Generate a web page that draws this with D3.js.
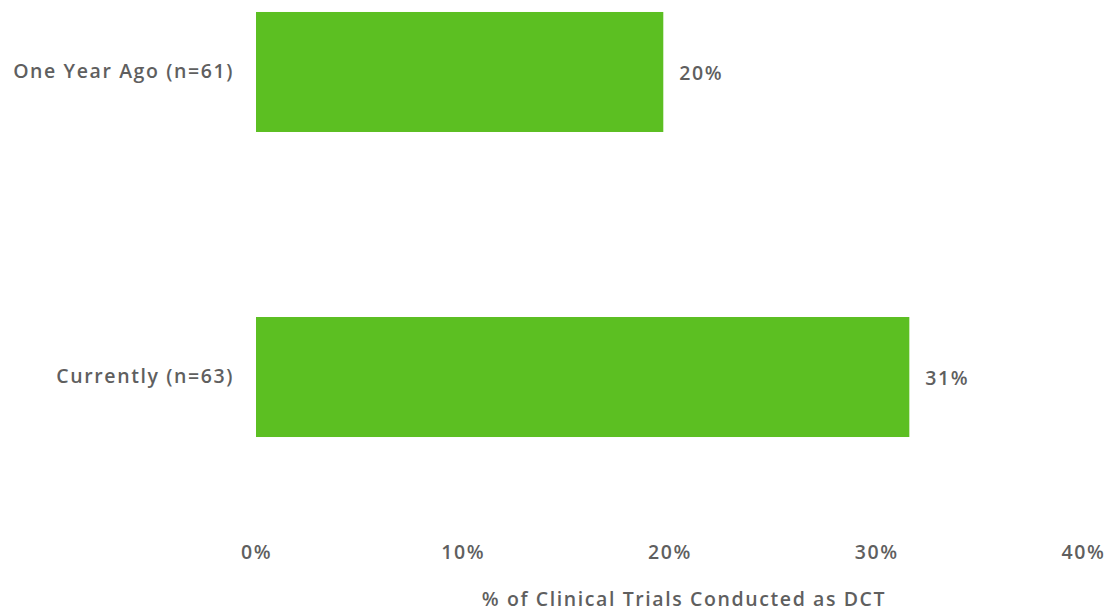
<!DOCTYPE html>
<html><head><meta charset="utf-8">
<script src="https://cdn.jsdelivr.net/npm/d3@7"></script>
<style>body{margin:0;background:#fff}svg text{font-family:"Open Sans",sans-serif;fill:#5f5f5f;font-weight:600;font-size:19.5px;letter-spacing:1.6px}</style>
</head><body><svg id="c" width="1115" height="612"></svg>
<script>
const categories = ["One Year Ago (n=61)", "Currently (n=63)"];
const values = [19.7, 31.6];
const valueLabels = ["20%", "31%"];
const tickValues = [0, 10, 20, 30, 40];
const tickLabels = ["0%", "10%", "20%", "30%", "40%"];
const axisTitle = "% of Clinical Trials Conducted as DCT";

const svg = d3.select("#c");
const x = d3.scaleLinear().domain([0, 40]).range([256, 1083]);
const y = d3.scaleBand().domain(categories).range([0, 449]).paddingInner(0.6066).paddingOuter(0.0393);

svg.selectAll("rect.bar").data(values).join("rect")
  .attr("x", x(0)).attr("y", (d,i)=>y(categories[i]))
  .attr("width", d=>x(d)-x(0)).attr("height", y.bandwidth())
  .attr("fill", "#5CBF22");

svg.selectAll("text.val").data(values).join("text")
  .attr("x", d=>x(d)+16).attr("y", (d,i)=>y(categories[i])+y.bandwidth()/2+3)
  .attr("dominant-baseline","middle")
  .text((d,i)=>valueLabels[i]);

svg.selectAll("text.cat").data(categories).join("text")
  .attr("x", 234).attr("y", d=>y(d)+y.bandwidth()/2+1)
  .attr("text-anchor","end").attr("dominant-baseline","middle")
  .text(d=>d);

const ax = svg.append("g").attr("transform","translate(0,540)")
  .call(d3.axisBottom(x).tickValues(tickValues).tickFormat((d,i)=>tickLabels[i]).tickSize(0).tickPadding(0));
ax.select(".domain").remove();
ax.selectAll("text").attr("dy",null).attr("y",14).attr("dominant-baseline","middle")
  .attr("font-size",null).attr("font-family",null).attr("fill",null);
ax.attr("font-size",null).attr("font-family",null);

svg.append("text").attr("x",684).attr("y",601).attr("text-anchor","middle").attr("dominant-baseline","middle")
  .text(axisTitle);
</script></body></html>
